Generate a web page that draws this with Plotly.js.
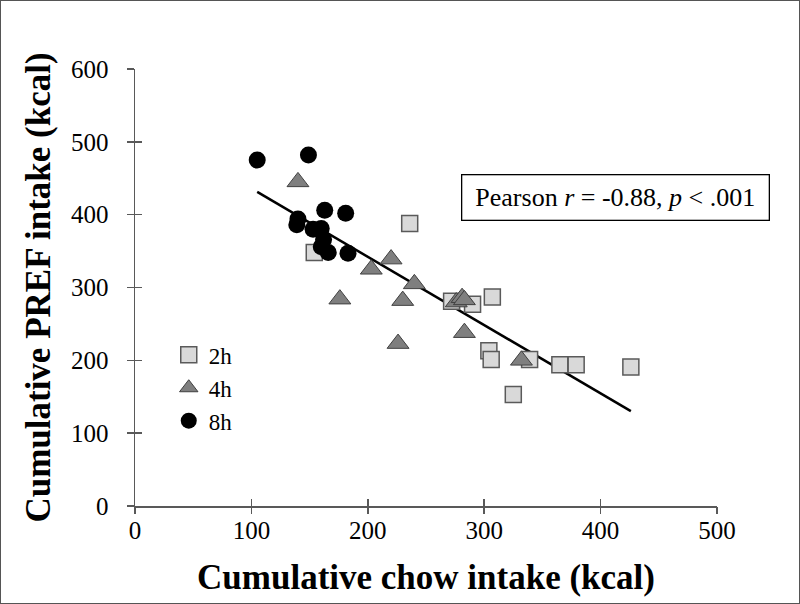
<!DOCTYPE html>
<html>
<head>
<meta charset="utf-8">
<script src="https://cdn.plot.ly/plotly-3.0.1.min.js"></script>
<style>
  html, body { margin: 0; padding: 0; background: #fff; }
  #wrap { position: relative; width: 800px; height: 604px; }
  #chart { position: absolute; left: 0; top: 0; width: 800px; height: 604px; }
  #frame { position: absolute; left: 0; top: 0; width: 800px; height: 604px; box-sizing: border-box; border: 1px solid #555; pointer-events: none; }
</style>
</head>
<body>
<div id="wrap"><div id="chart"></div><div id="frame"></div></div>
<script>
// Data (kcal)
const chow2h = [154, 236, 272, 290, 307, 304, 306, 339, 365, 379, 426, 325];
const pref2h = [348, 388, 281, 277, 287, 213, 201, 201, 194, 194, 191, 153];

const chow4h = [140, 203, 220, 176, 230, 240, 276, 281, 283, 283, 226, 332];
const pref4h = [445, 325, 339, 284, 282, 305, 280, 286, 283, 238, 223, 200];

const chow8h = [105, 149, 163, 181, 140, 139, 153, 160, 162, 160, 166, 183];
const pref8h = [475, 482, 406, 402, 394, 386, 380, 381, 366, 356, 348, 347];

const seriesNames = ['2h', '4h', '8h'];
const xTicks = [0, 100, 200, 300, 400, 500];
const yTicks = [0, 100, 200, 300, 400, 500, 600];
const statText = 'Pearson <i>r</i> = -0.88, <i>p</i> &lt; .001';

// least-squares trend line over all points
const allX = chow2h.concat(chow4h, chow8h);
const allY = pref2h.concat(pref4h, pref8h);
const n = allX.length;
const mx = allX.reduce((a, b) => a + b, 0) / n;
const my = allY.reduce((a, b) => a + b, 0) / n;
let sxy = 0, sxx = 0;
for (let i = 0; i < n; i++) { sxy += (allX[i] - mx) * (allY[i] - my); sxx += (allX[i] - mx) ** 2; }
const slope = sxy / sxx;
const icpt = my - slope * mx;
const xmin = Math.min(...allX), xmax = Math.max(...allX);
const trendX = [xmin, xmax];
const trendY = trendX.map(v => icpt + slope * v);

const FONT = '"Liberation Serif", "Times New Roman", serif';
const AXC = '#595959';

const traces = [
  { x: trendX, y: trendY, mode: 'lines', line: { color: '#000', width: 2.5 }, showlegend: false, hoverinfo: 'skip' },
  { x: chow2h, y: pref2h, mode: 'markers', name: seriesNames[0], legendgroup: 'a',
    marker: { symbol: 'square', size: 16, color: '#d9d9d9', line: { color: '#5a5a5a', width: 1.5 } } },
  { x: chow4h, y: pref4h, mode: 'markers', name: seriesNames[1], legendgroup: 'b',
    marker: { symbol: 'triangle-up', size: 19, color: '#7f7f7f', line: { color: '#404040', width: 1 } } },
  { x: chow8h, y: pref8h, mode: 'markers', name: seriesNames[2], legendgroup: 'c',
    marker: { symbol: 'circle', size: 17, color: '#000000', line: { color: '#000', width: 0 } } },
  { x: [], y: [], xaxis: 'x2', yaxis: 'y2', showlegend: false, hoverinfo: 'skip' }
];

const layout = {
  width: 800, height: 604,
  margin: { l: 135, r: 83, t: 69, b: 98 },
  paper_bgcolor: 'rgba(0,0,0,0)', plot_bgcolor: 'rgba(0,0,0,0)',
  font: { family: FONT, color: '#000', size: 24 },
  showlegend: true,
  legend: { x: 0.058, y: 0.395, xanchor: 'left', yanchor: 'top', bgcolor: 'rgba(0,0,0,0)',
            font: { family: FONT, size: 23, color: '#000' }, tracegroupgap: 6, traceorder: 'normal' },
  xaxis: { range: [0, 500], tickvals: xTicks, ticktext: xTicks.map(String), showgrid: false, zeroline: false,
           showline: true, linecolor: AXC, linewidth: 1.5, ticks: 'inside', ticklen: 7, tickwidth: 1.5, tickcolor: AXC,
           tickfont: { family: FONT, size: 25, color: '#000' }, ticklabelstandoff: 1,
           title: { text: '<b>Cumulative chow intake (kcal)</b>', font: { family: FONT, size: 35, color: '#000' }, standoff: 22 } },
  yaxis: { range: [0, 600], tickvals: yTicks, ticktext: yTicks.map(String), showgrid: false, zeroline: false,
           showline: true, linecolor: AXC, linewidth: 1.5, ticks: 'inside', ticklen: 7, tickwidth: 1.5, tickcolor: AXC,
           tickfont: { family: FONT, size: 25, color: '#000' }, ticklabelstandoff: 20,
           title: { text: '<b>Cumulative PREF intake (kcal)</b>', font: { family: FONT, size: 35, color: '#000' }, standoff: 10 } },
  xaxis2: { overlaying: 'x', anchor: 'y', side: 'bottom', range: [0, 500], tickvals: xTicks, showticklabels: false,
            showgrid: false, zeroline: false, showline: false, ticks: 'outside', ticklen: 7, tickwidth: 1.5, tickcolor: AXC },
  yaxis2: { overlaying: 'y', anchor: 'x', side: 'left', range: [0, 600], tickvals: yTicks, showticklabels: false,
            showgrid: false, zeroline: false, showline: false, ticks: 'outside', ticklen: 7, tickwidth: 1.5, tickcolor: AXC },
  annotations: [
    { xref: 'paper', yref: 'paper', x: 0.8256, y: 0.705, xanchor: 'center', yanchor: 'middle', showarrow: false,
      text: statText, font: { family: FONT, size: 26, color: '#000' },
      bordercolor: '#000', borderwidth: 1.3, borderpad: 4, width: 298, height: 36, bgcolor: '#fff', align: 'center' }
  ]
};

Plotly.newPlot('chart', traces, layout, { displayModeBar: false, staticPlot: true });
</script>
</body>
</html>
